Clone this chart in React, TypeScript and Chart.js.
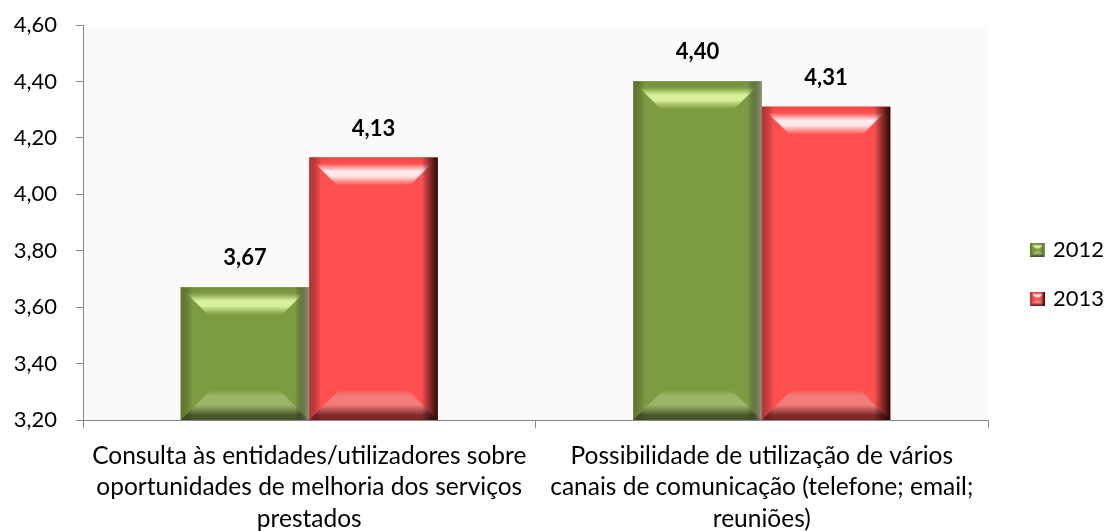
import React, { useEffect, useRef } from "react";
import { Chart, registerables } from "chart.js";

Chart.register(...registerables);

const categories: string[][] = [
  ["Consulta às entidades/utilizadores sobre", "oportunidades de melhoria dos serviços", "prestados"],
  ["Possibilidade de utilização de vários", "canais de comunicação (telefone; email;", "reuniões)"],
];
const seriesNames = ["2012", "2013"];
const values2012 = [3.67, 4.4];
const values2013 = [4.13, 4.31];
const yMin = 3.2;
const yMax = 4.6;
const yStep = 0.2;

type Pal = {
  base: string;
  topEdge: string;
  topHi: string;
  botHi: string;
  botDark: string;
  leftDark: string;
  rightDark: string;
};

const palettes: Pal[] = [
  {
    base: "#7D9B41",
    topEdge: "#74903C",
    topHi: "#D8F09A",
    botHi: "#9CB668",
    botDark: "#46562A",
    leftDark: "rgba(60,80,25,0.45)",
    rightDark: "rgba(150,150,140,0.85)",
  },
  {
    base: "#FF5050",
    topEdge: "#EE4646",
    topHi: "#FFE8E8",
    botHi: "#F27C7C",
    botDark: "#7E2828",
    leftDark: "rgba(120,30,30,0.55)",
    rightDark: "rgba(30,5,5,0.95)",
  },
];

function drawBevel(ctx: CanvasRenderingContext2D, x0: number, y0: number, x1: number, y1: number, bev: number, pal: Pal, ls: number, rs: number) {
  const w = x1 - x0;
  const h = y1 - y0;
  const b = Math.min(bev, w / 2, h / 2);
  ctx.save();
  ctx.fillStyle = pal.base;
  ctx.fillRect(x0, y0, w, h);
  // top
  let g = ctx.createLinearGradient(0, y0, 0, y0 + b);
  g.addColorStop(0, pal.topEdge);
  g.addColorStop(0.2, pal.base);
  g.addColorStop(0.45, pal.topHi);
  g.addColorStop(0.62, pal.topHi);
  g.addColorStop(0.92, pal.base);
  g.addColorStop(1, pal.base);
  ctx.beginPath();
  ctx.moveTo(x0, y0);
  ctx.lineTo(x1, y0);
  ctx.lineTo(x1 - b, y0 + b);
  ctx.lineTo(x0 + b, y0 + b);
  ctx.closePath();
  ctx.fillStyle = g;
  ctx.fill();
  // bottom
  g = ctx.createLinearGradient(0, y1 - b, 0, y1);
  g.addColorStop(0, pal.base);
  g.addColorStop(0.2, pal.botHi);
  g.addColorStop(0.5, pal.botHi);
  g.addColorStop(0.85, pal.botDark);
  g.addColorStop(1, pal.botDark);
  ctx.beginPath();
  ctx.moveTo(x0, y1);
  ctx.lineTo(x1, y1);
  ctx.lineTo(x1 - b, y1 - b);
  ctx.lineTo(x0 + b, y1 - b);
  ctx.closePath();
  ctx.fillStyle = g;
  ctx.fill();
  // left strip
  g = ctx.createLinearGradient(x0, 0, x0 + ls, 0);
  g.addColorStop(0, pal.leftDark);
  g.addColorStop(1, "rgba(0,0,0,0)");
  ctx.fillStyle = g;
  ctx.fillRect(x0, y0, ls, h);
  // right strip
  g = ctx.createLinearGradient(x1 - rs, 0, x1, 0);
  g.addColorStop(0, "rgba(0,0,0,0)");
  g.addColorStop(1, pal.rightDark);
  ctx.fillStyle = g;
  ctx.fillRect(x1 - rs, y0, rs, h);
  ctx.restore();
}

const FONT = "Lato, 'Open Sans', sans-serif";

export default function App() {
  const ref = useRef<HTMLCanvasElement>(null);
  useEffect(() => {
    if (!ref.current) return;
    const bevelPlugin = {
      id: "bevel",
      beforeDraw(chart: any) {
        const { ctx, chartArea } = chart;
        ctx.save();
        ctx.fillStyle = "#FAFAFA";
        ctx.fillRect(chartArea.left, chartArea.top, chartArea.right - chartArea.left, chartArea.bottom - chartArea.top);
        ctx.restore();
      },
      afterDatasetsDraw(chart: any) {
        const ctx = chart.ctx as CanvasRenderingContext2D;
        const bottom = chart.chartArea.bottom;
        chart.data.datasets.forEach((ds: any, di: number) => {
          const meta = chart.getDatasetMeta(di);
          meta.data.forEach((bar: any, i: number) => {
            const x0 = bar.x - bar.width / 2;
            const x1 = bar.x + bar.width / 2;
            drawBevel(ctx, x0, bar.y, x1, Math.min(bar.base, bottom), 30, palettes[di], 12, di === 1 ? 16 : 14);
            ctx.save();
            ctx.fillStyle = "#000";
            ctx.font = `bold 22px ${FONT}`;
            ctx.textAlign = "center";
            ctx.textBaseline = "alphabetic";
            ctx.fillText(Number(ds.data[i]).toFixed(2).replace(".", ","), bar.x, bar.y - 22);
            ctx.restore();
          });
        });
        // legend
        const lx = 1030;
        const ys = [250, 299];
        seriesNames.forEach((name, di) => {
          const cy = ys[di];
          drawBevel(ctx, lx, cy - 7, lx + 15, cy + 7, 7, palettes[di], 3, 4);
          ctx.save();
          ctx.fillStyle = "#000";
          ctx.font = `22px ${FONT}`;
          ctx.textAlign = "left";
          ctx.textBaseline = "middle";
          ctx.fillText(name, 1053, cy);
          ctx.restore();
        });
      },
    };
    const chart = new Chart(ref.current, {
      type: "bar",
      data: {
        labels: categories,
        datasets: [
          { label: seriesNames[0], data: values2012, backgroundColor: palettes[0].base, barPercentage: 1, categoryPercentage: 0.568 },
          { label: seriesNames[1], data: values2013, backgroundColor: palettes[1].base, barPercentage: 1, categoryPercentage: 0.568 },
        ],
      },
      options: {
        animation: false,
        responsive: false,
        maintainAspectRatio: false,
        layout: { padding: { top: 25, right: 119, left: 0, bottom: 0 } },
        plugins: { legend: { display: false }, tooltip: { enabled: false } },
        scales: {
          x: {
            afterFit(scale: any) {
              scale.height = 111;
              scale.paddingLeft = 0;
              scale.paddingRight = 0;
            },
            grid: { drawOnChartArea: false, tickLength: 8, color: "#868686", offset: true },
            border: { color: "#868686", width: 1 },
            ticks: { color: "#000", font: { family: FONT, size: 24.5, lineHeight: 1.29 }, padding: 12, maxRotation: 0, autoSkip: false },
          },
          y: {
            min: yMin,
            max: yMax,
            afterFit(scale: any) {
              scale.width = 83;
              scale.paddingTop = 0;
              scale.paddingBottom = 0;
            },
            grid: { drawOnChartArea: false, tickLength: 7, color: "#868686" },
            border: { color: "#868686", width: 1 },
            ticks: {
              stepSize: yStep,
              color: "#000",
              padding: 19,
              font: { family: FONT, size: 22 },
              callback: (v: any) => Number(v).toFixed(2).replace(".", ","),
            },
          },
        },
      },
      plugins: [bevelPlugin],
    } as any);
    return () => chart.destroy();
  }, []);
  return (
    <div style={{ position: "fixed", left: 0, top: 0, width: 1107, height: 531, background: "#fff" }}>
      <canvas ref={ref} width={1107} height={531} style={{ width: 1107, height: 531, display: "block" }} />
    </div>
  );
}
